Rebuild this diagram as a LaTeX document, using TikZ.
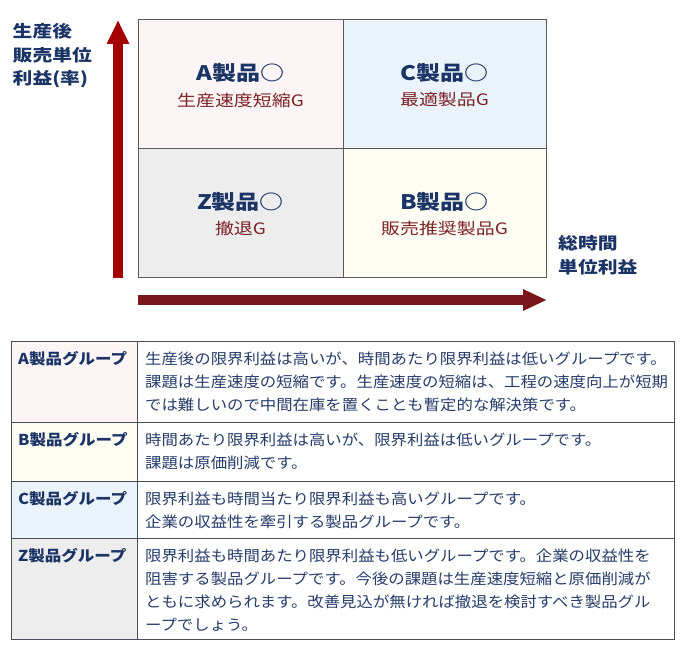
\documentclass[tikz,border=0pt]{standalone}
\usepackage{fontspec}
\setmainfont{Noto Sans CJK JP}[FakeStretch=1.1]
\newfontfamily\widejp{Noto Sans CJK JP}[FakeStretch=1.2]
\usetikzlibrary{arrows.meta}
\XeTeXlinebreaklocale "ja"
\XeTeXlinebreakskip=0pt plus 2pt
\definecolor{navy}{HTML}{1B3466}
\definecolor{bodynavy}{HTML}{263C69}
\definecolor{wine}{HTML}{7B2226}
\definecolor{axisred}{HTML}{A30000}
\definecolor{axiswine}{HTML}{7A171C}
\definecolor{pinkbg}{HTML}{FDF5F5}
\definecolor{bluebg}{HTML}{EAF3FA}
\definecolor{greybg}{HTML}{EDEDED}
\definecolor{creambg}{HTML}{FEFDF4}
\definecolor{framegrey}{HTML}{5F5757}
\definecolor{rulegrey}{HTML}{4A4E58}
\newcommand{\fullline}[1]{\makebox[518pt][s]{#1}}

\begin{document}
\begin{tikzpicture}[x=1pt,y=-1pt,
    ttl/.style={font=\widejp\fontsize{20}{20}\selectfont\bfseries, text=navy, inner sep=0pt},
    sub/.style={font=\widejp\fontsize{15.8}{16}\selectfont, text=wine, inner sep=0pt},
    axlab/.style={font=\widejp\fontsize{16.5}{23.5}\selectfont\bfseries, text=navy, align=left, inner sep=0pt, anchor=north west},
    grp/.style={font=\fontsize{15}{15}\selectfont\bfseries, text=navy, inner sep=0pt, anchor=west},
    body/.style={font=\fontsize{14.9}{23}\selectfont, text=bodynavy, align=left, inner sep=0pt, anchor=north west}]
    \useasboundingbox (0,0) rectangle (685,660);
    % Quadrants
    \foreach \xa/\xb/\ya/\yb/\bg/\g/\sub in {138/343/20/149/pinkbg/A/生産速度短縮G, 343/546/20/149/bluebg/C/最適製品G, 138/343/149/278/greybg/Z/撤退G, 343/546/149/278/creambg/B/販売推奨製品G} {
        \fill[\bg] (\xa,\ya) rectangle (\xb,\yb);
        \node[ttl] (ttl\g) at ({(\xa+\xb)/2},{\ya+53}) {{\g}製品○};
        \node[sub] (sub\g) at ({(\xa+\xb)/2},{\ya+80}) {\sub};
    }
    \draw[framegrey, line width=1pt] (138,20) rectangle (546,278) (343,20) -- (343,278) (138,149) -- (546,149);
    % Axes
    \coordinate (yfoot) at (118,278);
    \coordinate (ytip) at (118,20);
    \coordinate (xfoot) at (138,300);
    \coordinate (xtip) at (547,300);
    \draw[axisred, line width=10pt, -{Triangle[width=21pt,length=24pt]}] (yfoot) -- (ytip);
    \draw[axiswine, line width=10pt, -{Triangle[width=20pt,length=24pt]}] (xfoot) -- (xtip);
    \node[axlab] (ylab) at (12.5,23.5) {生産後\\販売単位\\利益(率)};
    \node[axlab] (xlab) at (558,235.5) {総時間\\単位利益};
    % Table
    \foreach \ya/\yb/\bg/\g in {341/422/pinkbg/A, 422/481/creambg/B, 481/538/bluebg/C, 538/639/greybg/Z} {
        \fill[\bg] (11,\ya) rectangle (137,\yb);
        \node[grp] (grp\g) at (18,{\ya+18}) {{\g}製品グループ};
    }
    \draw[rulegrey, line width=1pt] (11,341) rectangle (674,639) (137,341) -- (137,639)
        (11,422) -- (674,422) (11,481) -- (674,481) (11,538) -- (674,538);
    \node[body] (txtA) at (145,351.5) {生産後の限界利益は高いが、時間あたり限界利益は低いグループです。\\課題は生産速度の短縮です。生産速度の短縮は、工程の速度向上が短期\\では難しいので中間在庫を置くことも暫定的な解決策です。};
    \node[body] (txtB) at (145,432.5) {時間あたり限界利益は高いが、限界利益は低いグループです。\\課題は原価削減です。};
    \node[body] (txtC) at (145,491.5) {限界利益も時間当たり限界利益も高いグループです。\\企業の収益性を牽引する製品グループです。};
    \node[body] (txtZ) at (145,548.5) {\fullline{限界利益も時間あたり限界利益も低いグループです。企業の収益性を}\\\fullline{阻害する製品グループです。今後の課題は生産速度短縮と原価削減が}\\\fullline{ともに求められます。改善見込が無ければ撤退を検討すべき製品グル}\\ープでしょう。};
\end{tikzpicture}
\end{document}
